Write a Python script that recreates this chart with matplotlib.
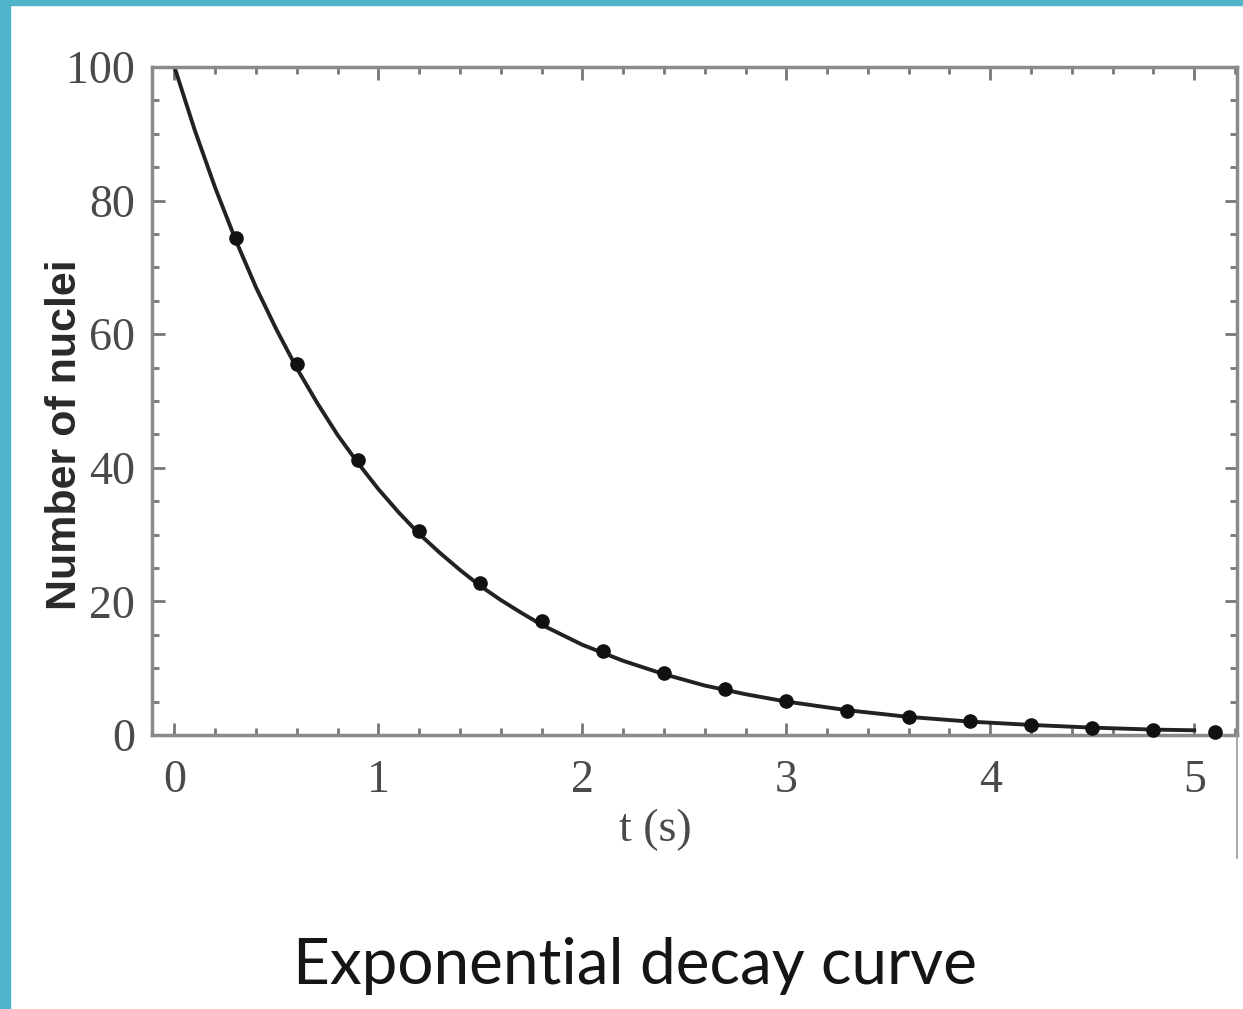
import matplotlib.pyplot as plt
from matplotlib.patches import Rectangle
from matplotlib.lines import Line2D
from matplotlib.ticker import MultipleLocator

# measured points (s, nuclei)
t_points = [0.3, 0.6, 0.9, 1.2, 1.5, 1.8, 2.1, 2.4, 2.7, 3.0, 3.3, 3.6, 3.9, 4.2, 4.5, 4.8, 5.1]
n_points = [74.4, 55.6, 41.1, 30.6, 22.8, 17.1, 12.6, 9.3, 6.9, 5.1, 3.6, 2.7, 2.1, 1.5, 1.0, 0.8, 0.4]

# smooth curve
t_curve = [0.0, 0.1, 0.2, 0.3, 0.4, 0.5, 0.6, 0.7, 0.8, 0.9, 1.0, 1.1, 1.2, 1.3, 1.4,
           1.5, 1.6, 1.7, 1.8, 1.9, 2.0, 2.2, 2.4, 2.6, 2.8, 3.0, 3.3, 3.6, 3.9, 4.2,
           4.5, 4.8, 5.0]
n_curve = [100.0, 90.5, 81.9, 74.1, 67.0, 60.7, 54.9, 49.7, 44.9, 40.7, 36.8, 33.3, 30.1,
           27.3, 24.7, 22.3, 20.2, 18.3, 16.5, 15.0, 13.5, 11.1, 9.1, 7.4, 6.1, 5.0, 3.7,
           2.7, 2.0, 1.5, 1.1, 0.8, 0.7]

x_ticks = [0, 1, 2, 3, 4, 5]
y_ticks = [0, 20, 40, 60, 80, 100]

fig = plt.figure(figsize=(12.43, 10.09), dpi=100)
ax = fig.add_axes([0.1223, 0.2716, 0.8729, 0.662])

ax.plot(t_curve, n_curve, color="#222222", lw=2.8, zorder=2)
ax.plot(t_points, n_points, "o", color="#111111", ms=9.5, zorder=3, clip_on=False)

ax.set_xlim(-0.11, 5.21)
ax.set_ylim(0, 100)
ax.set_xticks(x_ticks)
ax.set_yticks(y_ticks)
ax.xaxis.set_minor_locator(MultipleLocator(0.2))
ax.yaxis.set_minor_locator(MultipleLocator(5))

for s in ax.spines.values():
    s.set_color("#8a8a8a")
    s.set_linewidth(2.5)
ax.tick_params(which="both", direction="in", top=True, right=True, color="#777777", width=2)
ax.tick_params(which="major", length=9)
ax.tick_params(which="minor", length=5)
ax.tick_params(axis="y", which="major", pad=12)
ax.tick_params(axis="x", which="major", pad=18)

for lab in ax.get_xticklabels() + ax.get_yticklabels():
    lab.set_fontfamily("Liberation Serif")
    lab.set_fontsize(33)
    lab.set_color("#4a4a4a")

ax.set_ylabel("Number of nuclei", fontsize=31, fontweight="bold",
              fontfamily="Liberation Sans", color="#2a2a2a")
ax.yaxis.set_label_coords(-0.062, 0.45)
ax.set_xlabel("t (s)", fontsize=33, fontfamily="Liberation Serif", color="#4a4a4a")
ax.xaxis.set_label_coords(0.464, -0.11)

fig.text(0.511, 0.043, "Exponential decay curve", ha="center", va="center",
         fontsize=46, fontfamily="Lato", color="#151515")

# thin line running down from the right edge of the frame
fig.add_artist(Line2D([0.9952, 0.9952], [0.15, 0.2716], color="#999999", lw=1.2))

# teal slide border on top and left
teal = "#4fb4c9"
fig.add_artist(Rectangle((0, 0.995), 1, 0.005, color=teal, transform=fig.transFigure))
fig.add_artist(Rectangle((0, 0), 0.008, 1, color=teal, transform=fig.transFigure))

fig.savefig("out.png", dpi=100)
